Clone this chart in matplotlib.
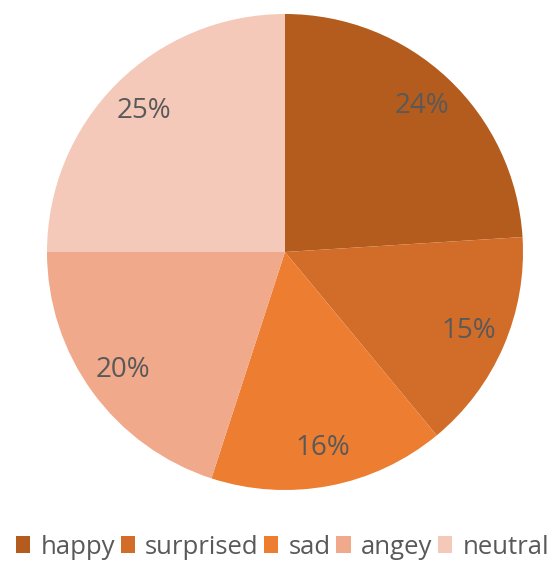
import matplotlib
matplotlib.use("Agg")
import matplotlib.pyplot as plt
from matplotlib.patches import Patch

labels = ["happy", "surprised", "sad", "angey", "neutral"]
values = [24, 15, 16, 20, 25]
colors = ["#B35C1E", "#D16D29", "#ED7D31", "#F0A98A", "#F5C9B9"]

plt.rcParams["font.family"] = ["Open Sans", "DejaVu Sans"]

W, H = 553, 563
fig = plt.figure(figsize=(W / 100, H / 100), dpi=100)
cx, cy, r = 285, 252, 238
ax = fig.add_axes([(cx - r) / W, (H - cy - r) / H, 2 * r / W, 2 * r / H])

wedges, texts, autotexts = ax.pie(
    values,
    colors=colors,
    startangle=90,
    counterclock=False,
    radius=1,
    autopct=lambda p: f"{p:.0f}%",
    pctdistance=0.84,
    textprops=dict(color="#595959", fontsize=20),
)
ax.set_xlim(-1, 1)
ax.set_ylim(-1, 1)
ax.set_aspect("equal")
ax.axis("off")

handles = [Patch(facecolor=c, edgecolor="none") for c in colors]
fig.legend(
    handles,
    labels,
    ncol=5,
    loc="center left",
    bbox_to_anchor=(16 / W, (H - 547) / H),
    frameon=False,
    fontsize=18.5,
    labelcolor="#595959",
    handlelength=0.55,
    handleheight=0.6,
    handletextpad=0.4,
    columnspacing=0.22,
    borderpad=0,
    borderaxespad=0,
)

fig.savefig("out.png", dpi=100)
